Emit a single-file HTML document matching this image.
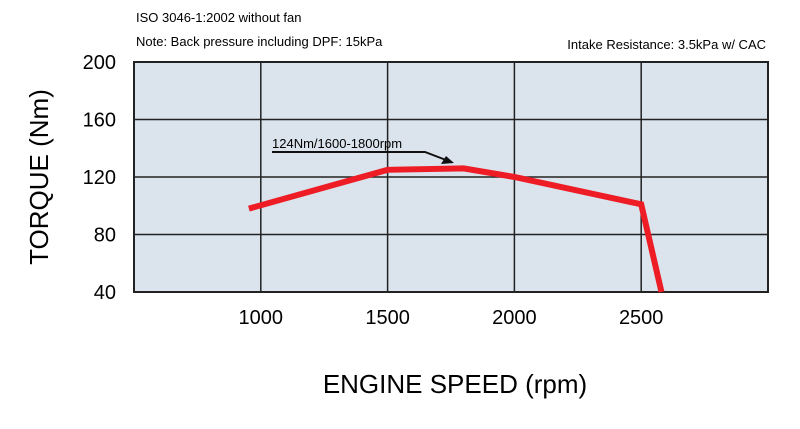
<!DOCTYPE html>
<html><head><meta charset="utf-8"><style>
body{margin:0;background:#fff;width:800px;height:424px;overflow:hidden;font-family:"Liberation Sans",sans-serif}
</style></head><body>
<svg width="800" height="424">
<text x="136" y="22" font-size="13">ISO 3046-1:2002 without fan</text>
<text x="136" y="46" font-size="13">Note:  Back pressure including DPF: 15kPa</text>
<text x="766" y="49" font-size="13" text-anchor="end">Intake Resistance:  3.5kPa w/ CAC</text>
<g id="plot"></g>
<text x="48" y="177" font-size="26" text-anchor="middle" transform="rotate(-90 48 177)">TORQUE (Nm)</text>
<text x="455" y="393" font-size="26" text-anchor="middle">ENGINE SPEED (rpm)</text>
</svg>
<script>
const speeds=[953,1500,1800,2000,2500,2580];
const torque=[98,125,126,120,101,40];
const xTicks=[1000,1500,2000,2500];
const yTicks=[40,80,120,160,200];
const L=134,R=768,T=62,B=292;
const X=v=>L+(v-500)/2500*(R-L);
const Y=v=>B-(v-40)/160*(B-T);
const ns='http://www.w3.org/2000/svg';
const g=document.getElementById('plot');
function mk(t,a){const e=document.createElementNS(ns,t);for(const k in a)e.setAttribute(k,a[k]);g.appendChild(e);return e;}
let bg=mk('rect',{x:L,y:T,width:R-L,height:B-T,fill:'#dbe3ec',stroke:'#222','stroke-width':2});


xTicks.forEach(v=>{const l=mk('line',{x1:X(v),x2:X(v),y1:T,y2:B,stroke:'#222','stroke-width':1.5});


const t=mk('text',{x:X(v),y:324,'font-size':20,'text-anchor':'middle'});t.textContent=v;

});
yTicks.forEach(v=>{if(v>40&&v<200){const l=mk('line',{x1:L,x2:R,y1:Y(v),y2:Y(v),stroke:'#222','stroke-width':1.5});

}
const t=mk('text',{x:116,y:Y(v)+7,'font-size':20,'text-anchor':'end'});t.textContent=v;

});
const pl=mk('polyline',{points:speeds.map((s,i)=>X(s)+','+Y(torque[i])).join(' '),fill:'none',stroke:'#ee1c25','stroke-width':6,'stroke-linejoin':'miter'});


const an=mk('text',{x:272,y:148,'font-size':13});an.textContent='124Nm/1600-1800rpm';


const ar=mk('path',{d:'M272 152 L425 152 L446 160',fill:'none',stroke:'#111','stroke-width':2});


const ah=mk('path',{d:'M454 163 L441 164 L446 156 Z',fill:'#111'});


</script>
</body></html>
